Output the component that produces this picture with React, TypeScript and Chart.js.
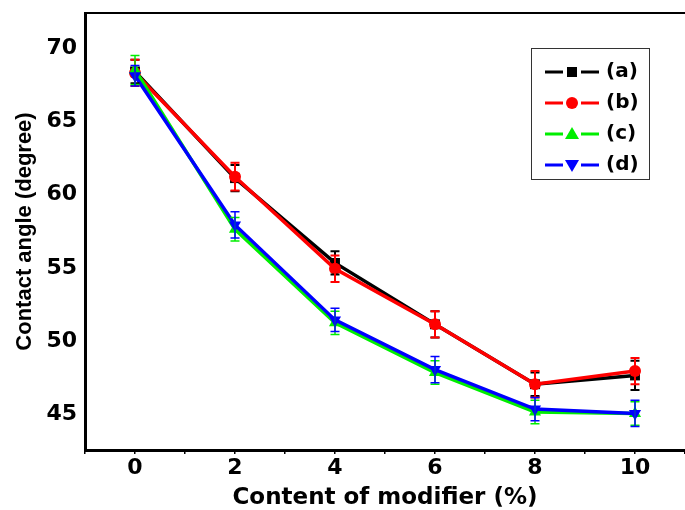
import React, { useEffect, useRef } from "react";
import Chart from "chart.js/auto";

const categories = [0, 2, 4, 6, 8, 10];
const seriesA = [68.3, 61.0, 55.2, 51.0, 46.9, 47.5];
const seriesB = [68.2, 61.1, 54.8, 51.0, 46.9, 47.8];
const seriesC = [68.4, 57.5, 51.1, 47.7, 45.0, 44.9];
const seriesD = [68.0, 57.8, 51.3, 47.9, 45.2, 44.9];
const errA = [0.8, 0.9, 0.8, 0.9, 0.8, 1.0];
const errB = [0.9, 0.95, 0.9, 0.9, 0.9, 0.9];
const errC = [1.0, 0.8, 0.8, 0.8, 0.8, 0.8];
const errD = [0.7, 0.9, 0.8, 0.9, 0.8, 0.9];
const labels = ["(a)", "(b)", "(c)", "(d)"];
const yTicks = [45, 50, 55, 60, 65, 70];

const colors = ["#000000", "#ff0000", "#00ee00", "#0000ff"];
const styles = ["rect", "circle", "triangle", "triangle"];
const rotations = [0, 0, 0, 180];
const radii = [7, 6, 7, 7];
const errWidths = [2, 2, 1.5, 1.5];
const allSeries = [seriesA, seriesB, seriesC, seriesD];
const allErr = [errA, errB, errC, errD];

const HFONT = "'DejaVu Sans', sans-serif";
const VFONT = "'Liberation Sans', Arial, sans-serif";

function drawMarker(ctx: CanvasRenderingContext2D, i: number, x: number, y: number) {
  ctx.save();
  ctx.fillStyle = colors[i];
  ctx.beginPath();
  if (i === 0) {
    const s = 5;
    ctx.rect(x - s, y - s, 2 * s, 2 * s);
  } else if (i === 1) {
    ctx.arc(x, y, 6, 0, Math.PI * 2);
  } else if (i === 2) {
    ctx.moveTo(x, y - 7);
    ctx.lineTo(x + 7, y + 5);
    ctx.lineTo(x - 7, y + 5);
    ctx.closePath();
  } else {
    ctx.moveTo(x, y + 7);
    ctx.lineTo(x + 7, y - 5);
    ctx.lineTo(x - 7, y - 5);
    ctx.closePath();
  }
  ctx.fill();
  ctx.restore();
}

const decorPlugin = {
  id: "decor",
  afterDatasetsDraw(chart: any) {
    const ctx = chart.ctx;
    const xs = chart.scales.x;
    const ys = chart.scales.y;
    ctx.save();
    for (let d = 0; d < allSeries.length; d++) {
      ctx.strokeStyle = colors[d];
      ctx.lineWidth = errWidths[d];
      for (let k = 0; k < categories.length; k++) {
        const px = xs.getPixelForValue(categories[k]);
        const top = ys.getPixelForValue(allSeries[d][k] + allErr[d][k]);
        const bot = ys.getPixelForValue(allSeries[d][k] - allErr[d][k]);
        ctx.beginPath();
        ctx.moveTo(px, top);
        ctx.lineTo(px, bot);
        ctx.moveTo(px - 4.5, top);
        ctx.lineTo(px + 4.5, top);
        ctx.moveTo(px - 4.5, bot);
        ctx.lineTo(px + 4.5, bot);
        ctx.stroke();
      }
    }
    ctx.restore();
  },
  afterDraw(chart: any) {
    const ctx = chart.ctx;
    const area = chart.chartArea;
    ctx.save();
    ctx.strokeStyle = "#000";
    ctx.lineWidth = 2;
    ctx.beginPath();
    ctx.moveTo(area.left, area.top);
    ctx.lineTo(area.right, area.top);
    ctx.stroke();
    const bx = 531, by = 48, bw = 118, bh = 131;
    ctx.strokeStyle = "#333";
    ctx.lineWidth = 1;
    ctx.strokeRect(bx + 0.5, by + 0.5, bw, bh);
    const rows = [72, 103, 134, 165];
    for (let i = 0; i < labels.length; i++) {
      const y = rows[i];
      ctx.strokeStyle = colors[i];
      ctx.lineWidth = 3;
      ctx.beginPath();
      ctx.moveTo(545, y);
      ctx.lineTo(563, y);
      ctx.moveTo(581, y);
      ctx.lineTo(599, y);
      ctx.stroke();
      drawMarker(ctx, i, 572, y);
      ctx.fillStyle = "#000";
      ctx.font = "bold 20px " + HFONT;
      ctx.textBaseline = "middle";
      ctx.textAlign = "left";
      ctx.fillText(labels[i], 606, y);
    }
    ctx.restore();
  },
};

export default function App() {
  const ref = useRef<HTMLCanvasElement>(null);
  useEffect(() => {
    if (!ref.current) return;
    const chart = new Chart(ref.current, {
      type: "line",
      data: {
        datasets: allSeries.map((s, i) => ({
          label: labels[i],
          data: categories.map((c, k) => ({ x: c, y: s[k] })),
          borderColor: colors[i],
          backgroundColor: colors[i],
          borderWidth: 3.5,
          pointStyle: styles[i] as any,
          pointRotation: rotations[i],
          pointRadius: radii[i],
          pointBorderWidth: 0,
          order: 4 - i,
        })),
      },
      options: {
        responsive: false,
        animation: false,
        events: [],
        layout: { autoPadding: false, padding: { top: 13, left: 0, right: 0, bottom: 0 } },
        plugins: { legend: { display: false }, tooltip: { enabled: false } },
        scales: {
          x: {
            type: "linear",
            min: -1,
            max: 11,
            afterFit: (s: any) => {
              s.height = 60;
              s.paddingLeft = 0;
              s.paddingRight = 0;
              s.paddingTop = 0;
              s.paddingBottom = 0;
            },
            afterBuildTicks: (s: any) => {
              const t = [];
              for (let v = -1; v <= 11; v++) t.push({ value: v });
              s.ticks = t;
            },
            ticks: {
              autoSkip: false,
              maxRotation: 0,
              padding: 1,
              color: "#000",
              font: { family: HFONT, size: 22, weight: "bold" },
              callback: (v: any) => (v >= 0 && v <= 10 && v % 2 === 0 ? String(v) : ""),
            },
            grid: {
              display: true,
              drawOnChartArea: false,
              drawTicks: true,
              tickLength: 4,
              color: "#000",
              lineWidth: 1.5,
            },
            border: { display: true, width: 3, color: "#000" },
            title: {
              display: true,
              text: "Content of modifier (%)",
              color: "#000",
              font: { family: HFONT, size: 23, weight: "bold" },
              padding: { top: 0, bottom: -2 },
            },
          },
          y: {
            type: "linear",
            min: 42.4,
            max: 72.3,
            afterFit: (s: any) => {
              s.width = 85;
              s.paddingLeft = 0;
              s.paddingRight = 0;
              s.paddingTop = 0;
              s.paddingBottom = 0;
            },
            afterBuildTicks: (s: any) => {
              s.ticks = yTicks.map((v) => ({ value: v }));
            },
            ticks: {
              padding: 8,
              labelOffset: 2,
              color: "#000",
              font: { family: HFONT, size: 22, weight: "bold" },
            },
            grid: { display: false, drawTicks: false },
            border: { display: true, width: 3, color: "#000" },
            title: {
              display: true,
              text: "Contact angle (degree)",
              color: "#000",
              font: { family: VFONT, size: 22, weight: "bold" },
              padding: { top: 12, bottom: 0 },
            },
          },
        },
      },
      plugins: [decorPlugin],
    });
    return () => chart.destroy();
  }, []);
  return (
    <div style={{ position: "fixed", left: 0, top: 0, width: 685, height: 510, background: "#fff" }}>
      <canvas ref={ref} width={685} height={510} style={{ display: "block" }} />
    </div>
  );
}
